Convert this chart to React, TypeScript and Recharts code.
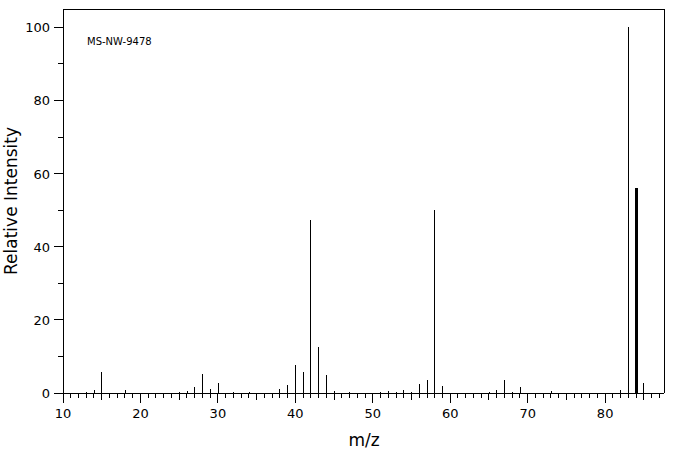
import React from "react";
import { ComposedChart, Bar, XAxis, YAxis } from "recharts";

// m/z values and relative intensities
const mz = [
  13, 14, 15, 18, 25, 26, 27, 28, 29, 30, 32, 34, 38, 39, 40, 41, 42, 43, 44, 45,
  47, 51, 52, 53, 54, 55, 56, 57, 58, 59, 65, 66, 67, 68, 69, 73, 82, 83, 84, 85,
];
const intensity = [
  0.3, 0.8, 5.7, 0.8, 0.3, 0.5, 1.6, 5.2, 1.1, 2.7, 0.3, 0.3, 1.1, 2.2, 7.6, 5.7, 47.4, 12.6, 4.9, 0.5,
  0.3, 0.3, 0.5, 0.3, 0.8, 0.3, 2.5, 3.6, 50.1, 1.9, 0.3, 0.8, 3.6, 0.3, 1.6, 0.5, 0.8, 100, 56.1, 2.7,
];
const xTicks = Array.from({ length: 78 }, (_, i) => 10 + i);
const yTicks = [0, 10, 20, 30, 40, 50, 60, 70, 80, 90, 100];
const sampleId = "MS-NW-9478";

const data = mz.map((m, i) => ({ mz: m, intensity: intensity[i] }));

const FONT = "'DejaVu Sans', sans-serif";

const XTick = (props: any) => {
  const { x, y, payload } = props;
  const v = payload.value;
  const len = v % 10 === 0 ? 10 : v % 5 === 0 ? 7 : 5;
  return (
    <g>
      <line x1={x} x2={x} y1={y} y2={y + len} stroke="#000" shapeRendering="crispEdges" />
      {v % 10 === 0 && (
        <text x={x} y={y + 25} textAnchor="middle" fontSize={13} fontFamily={FONT} fill="#000">
          {v}
        </text>
      )}
    </g>
  );
};

const YTick = (props: any) => {
  const { x, y, payload } = props;
  const v = payload.value;
  const major = v % 20 === 0;
  return (
    <g>
      <line x1={x - (major ? 9 : 5)} x2={x} y1={y} y2={y} stroke="#000" shapeRendering="crispEdges" />
      {major && (
        <text x={x - 13} y={y + 5} textAnchor="end" fontSize={13} fontFamily={FONT} fill="#000">
          {v}
        </text>
      )}
    </g>
  );
};

const Stick = (props: any) => {
  const { x, y, width, height, payload } = props;
  const w = payload.mz === 84 ? 3 : 1;
  const cx = Math.round(x + width / 2);
  return <rect x={cx - Math.floor(w / 2)} y={y} width={w} height={height} fill="#000" shapeRendering="crispEdges" />;
};

export default function App() {
  return (
    <div style={{ position: "absolute", left: 0, top: 0, width: 676, height: 455, background: "#fff" }}>
      <ComposedChart
        width={676}
        height={455}
        data={data}
        margin={{ top: 8, right: 11, bottom: 0, left: 0 }}
      >
        <XAxis
          dataKey="mz"
          type="number"
          domain={[10, 87.6]}
          ticks={xTicks}
          interval={0}
          tickSize={0}
          tickMargin={0}
          tickLine={false}
          height={62}
          axisLine={{ stroke: "#000", shapeRendering: "crispEdges" }}
          tick={<XTick />}
          allowDataOverflow
        />
        <XAxis
          xAxisId="top"
          orientation="top"
          type="number"
          domain={[10, 87.6]}
          height={1}
          tick={false}
          tickLine={false}
          axisLine={{ stroke: "#000", shapeRendering: "crispEdges" }}
        />
        <YAxis
          type="number"
          domain={[0, 105]}
          ticks={yTicks}
          interval={0}
          tickSize={0}
          tickMargin={0}
          tickLine={false}
          width={63}
          axisLine={{ stroke: "#000", shapeRendering: "crispEdges" }}
          tick={<YTick />}
          allowDataOverflow
        />
        <YAxis
          yAxisId="right"
          orientation="right"
          type="number"
          domain={[0, 105]}
          width={1}
          tick={false}
          tickLine={false}
          axisLine={{ stroke: "#000", shapeRendering: "crispEdges" }}
        />
        <Bar dataKey="intensity" barSize={1} shape={<Stick />} isAnimationActive={false} />
        <text x={87} y={45} fontSize={10} fontFamily={FONT} fill="#000">
          {sampleId}
        </text>
        <text x={364} y={446} textAnchor="middle" fontSize={17} fontFamily={FONT} fill="#000">
          m/z
        </text>
        <text
          x={17}
          y={201}
          textAnchor="middle"
          fontSize={17}
          fontFamily={FONT}
          fill="#000"
          transform="rotate(-90 17 201)"
        >
          Relative Intensity
        </text>
      </ComposedChart>
    </div>
  );
}
